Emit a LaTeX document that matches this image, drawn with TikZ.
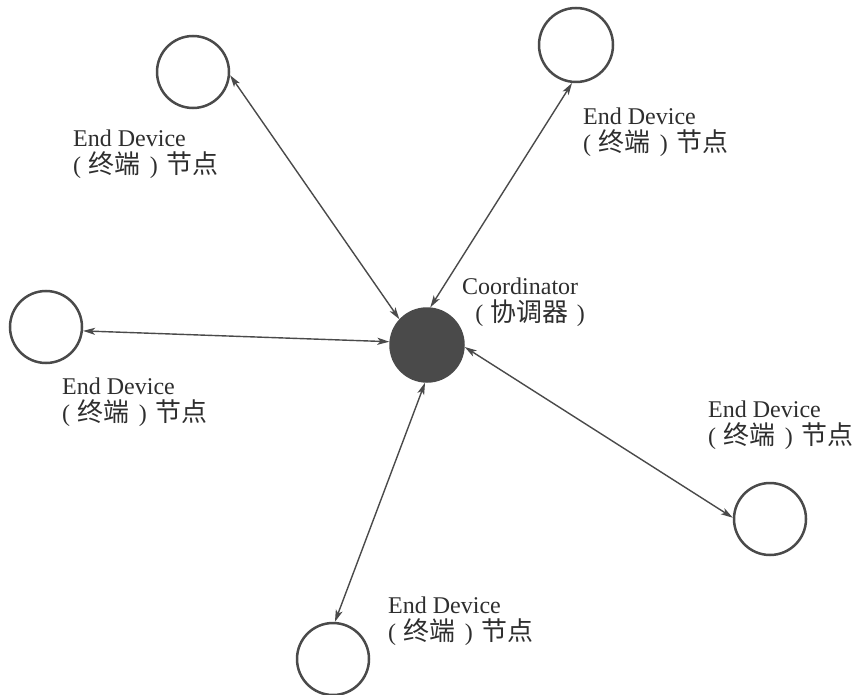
\documentclass[tikz,border=0pt]{standalone}
\usepackage{fontspec}
\setmainfont{Liberation Serif}
\newfontfamily\cjk[Scale=1.08]{Noto Sans CJK SC}
\usetikzlibrary{arrows.meta}
\definecolor{ink}{HTML}{4A4A4A}
\definecolor{txt}{HTML}{2E2E2E}
\newcommand{\zdline}{(\hspace{0.3em}{\cjk 终端}\hspace{0.4em})\hspace{0.35em}{\cjk 节点}}
\tikzset{
  dev/.style={circle,draw=ink,line width=2.5pt,fill=white,minimum size=72pt,inner sep=0pt},
  coord/.style={circle,draw=ink,line width=2.5pt,fill=ink,minimum size=73pt,inner sep=0pt},
  link/.style={draw=ink,line width=1.4pt,{Stealth[length=12pt,width=7pt,inset=3pt]}-{Stealth[length=12pt,width=7pt,inset=3pt]}},
  lbl/.style={anchor=west,align=left,inner sep=0pt,text=txt,font=\fontsize{24}{27.5}\selectfont}
}
\begin{document}
\begin{tikzpicture}[x=1pt,y=-1pt]
\useasboundingbox (0,0) rectangle (856,695);
\node[coord] (C) at (427,345) {};
\node[dev] (TL) at (193,72) {};
\node[dev,minimum size=74pt] (TR) at (576,45) {};
\node[dev] (L) at (46,327) {};
\node[dev] (R) at (770,519) {};
\node[dev] (B) at (333,659) {};
\draw[link] (TL.-5) -- (C.137);
\draw[link] (TR.264) -- (C.85);
\draw[link] (L.-6) -- (C.175);
\draw[link] (R.178) -- (C.-3);
\draw[link] (B.87) -- (C.267);
\node[lbl] (tTL) at (73,154) {End Device\\\zdline};
\node[lbl] (tTR) at (583,132) {End Device\\\zdline};
\node[lbl] (tC) at (462,302) {Coordinator\\\hspace{0.55em}(\hspace{0.3em}{\cjk 协调器}\hspace{0.35em})};
\node[lbl] (tL) at (62,402) {End Device\\\zdline};
\node[lbl] (tR) at (708,425) {End Device\\\zdline};
\node[lbl] (tB) at (388,621) {End Device\\\zdline};
\end{tikzpicture}
\end{document}
